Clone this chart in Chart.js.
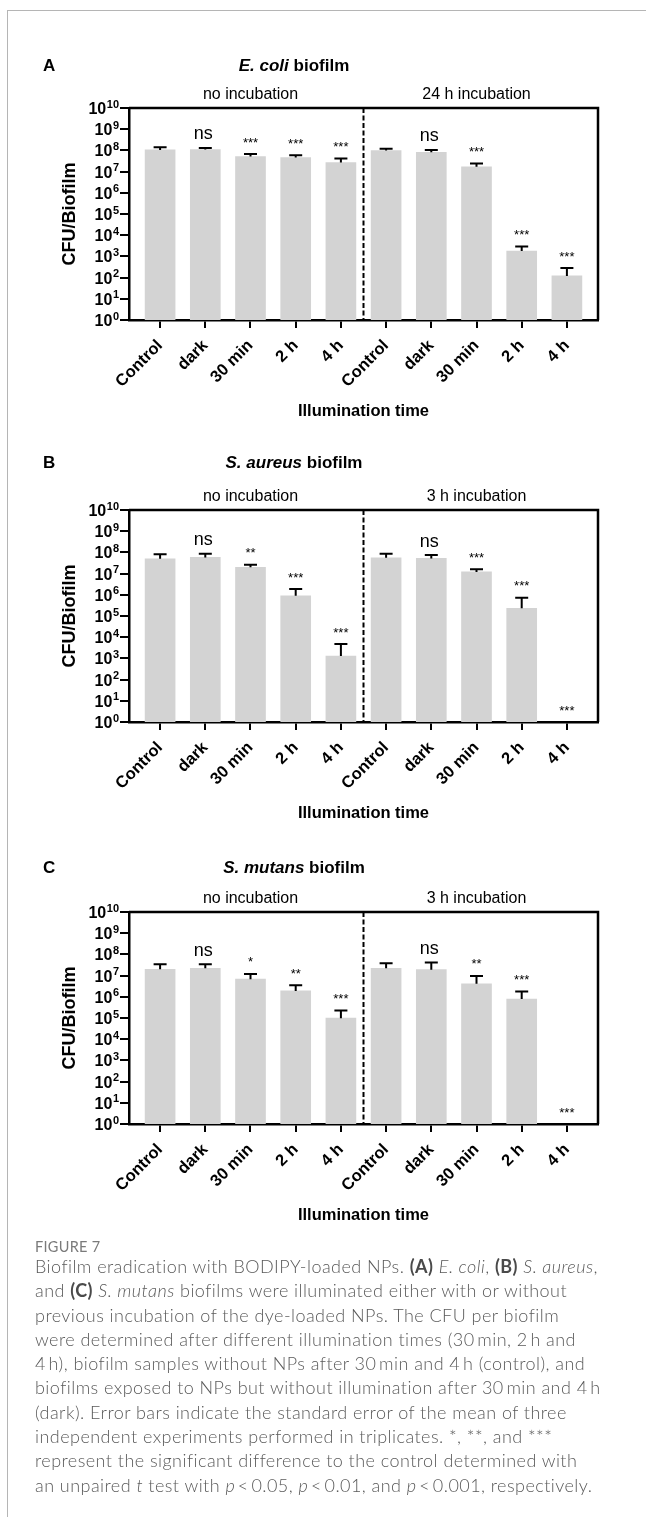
<!DOCTYPE html>
<html lang="en">
<head>
    <meta charset="UTF-8">
    <title>Figure 7 - Biofilm eradication</title>
    <script src="https://cdn.jsdelivr.net/npm/chart.js"></script>
    <style>
        body {
            margin: 0;
            background: #fff;
            width: 646px;
            height: 1517px;
            position: relative;
            overflow: hidden;
            font-family: "Liberation Sans", Arial, sans-serif;
        }
        .frame {
            position: absolute;
            left: 7px;
            top: 10px;
            right: 0;
            bottom: 0;
            border-left: 1.5px solid #b5b5b5;
            border-top: 1.5px solid #b5b5b5;
        }
        canvas.panel {
            position: absolute;
            left: 0;
        }
        .fig-label {
            position: absolute;
            left: 35px;
            top: 1238px;
            font-family: Lato, "Open Sans", sans-serif;
            font-size: 14.5px;
            line-height: 18px;
            color: #7a7a7a;
            letter-spacing: 0.3px;
        }
        .caption {
            position: absolute;
            left: 35px;
            top: 1254px;
            font-family: Lato, "Open Sans", sans-serif;
            font-weight: 300;
            font-size: 18px;
            letter-spacing: 0.45px;
            line-height: 24.3px;
            color: #5a5a5a;
            white-space: nowrap;
        }
        .caption b {
            font-weight: 700;
            color: #4a4a4a;
        }
    </style>
</head>
<body>
    <div class="frame"></div>
    <canvas id="chartA" class="panel" width="646" height="402" style="top:40px"></canvas>
    <canvas id="chartB" class="panel" width="646" height="402" style="top:442px"></canvas>
    <canvas id="chartC" class="panel" width="646" height="402" style="top:844px"></canvas>

    <div class="fig-label">FIGURE 7</div>
    <div class="caption">
        Biofilm eradication with BODIPY-loaded NPs. <b>(A)</b> <i>E. coli</i>, <b>(B)</b> <i>S. aureus</i>,<br>
        and <b>(C)</b> <i>S. mutans</i> biofilms were illuminated either with or without<br>
        previous incubation of the dye-loaded NPs. The CFU per biofilm<br>
        were determined after different illumination times (30&thinsp;min, 2&thinsp;h and<br>
        4&thinsp;h), biofilm samples without NPs after 30&thinsp;min and 4&thinsp;h (control), and<br>
        biofilms exposed to NPs but without illumination after 30&thinsp;min and 4&thinsp;h<br>
        (dark). Error bars indicate the standard error of the mean of three<br>
        independent experiments performed in triplicates. *, **, and ***<br>
        represent the significant difference to the control determined with<br>
        an unpaired <i>t</i> test with <i>p</i>&thinsp;&lt;&thinsp;0.05, <i>p</i>&thinsp;&lt;&thinsp;0.01, and <i>p</i>&thinsp;&lt;&thinsp;0.001, respectively.
    </div>

    <script>
        // categories on the x axis (two groups of five)
        const categories = ['Control', 'dark', '30 min', '2 h', '4 h', 'Control', 'dark', '30 min', '2 h', '4 h'];
        // y axis ticks: powers of ten 10^0 .. 10^10
        const yExponents = [0, 1, 2, 3, 4, 5, 6, 7, 8, 9, 10];

        const panelLetters = ['A', 'B', 'C'];
        const speciesNames = ['E. coli', 'S. aureus', 'S. mutans'];
        const groupsA = ['no incubation', '24 h incubation'];
        const groupsBC = ['no incubation', '3 h incubation'];
        const xTitle = 'Illumination time';
        const yTitle = 'CFU/Biofilm';

        // A: E. coli (CFU per biofilm, mean and SEM)
        const ecoliMean = [1.05e8, 1.1e8, 5.1e7, 4.6e7, 2.7e7, 9.8e7, 8.1e7, 1.7e7, 1.8e3, 120];
        const ecoliSem = [3.5e7, 2.0e7, 1.7e7, 1.3e7, 1.4e7, 2.2e7, 2.4e7, 7.0e6, 1.1e3, 160];
        const ecoliSig = ['', 'ns', '***', '***', '***', '', 'ns', '***', '***', '***'];

        // B: S. aureus
        const aureusMean = [5.0e7, 5.8e7, 2.0e7, 8.9e5, 1.3e3, 5.6e7, 5.2e7, 1.2e7, 2.3e5, null];
        const aureusSem = [3.1e7, 2.9e7, 6.0e6, 1.0e6, 3.5e3, 3.1e7, 2.3e7, 4.0e6, 4.9e5, null];
        const aureusSig = ['', 'ns', '**', '***', '***', '', 'ns', '***', '***', '***'];

        // C: S. mutans
        const mutansMean = [2.0e7, 2.2e7, 6.8e6, 1.9e6, 9.8e4, 2.2e7, 1.9e7, 4.1e6, 7.8e5, null];
        const mutansSem = [1.4e7, 1.2e7, 5.2e6, 1.6e6, 1.3e5, 1.6e7, 2.2e7, 5.6e6, 1.0e6, null];
        const mutansSig = ['', 'ns', '*', '**', '***', '', 'ns', '**', '***', '***'];

        const FONT = "'Liberation Sans', Arial, sans-serif";
        Chart.defaults.font.family = FONT;
        Chart.defaults.color = '#000';

        // draws error bars, stars, group labels, dashed divider, frame and titles
        function figurePlugin(letter, species, groups, mean, sem, sig, titleY) {
            return {
                id: 'figure',
                afterDraw(chart) {
                    const ctx = chart.ctx;
                    const x = chart.scales.x;
                    const y = chart.scales.y;
                    const area = chart.chartArea;
                    const bars = chart.getDatasetMeta(0).data;
                    ctx.save();

                    // error bars (upper only)
                    ctx.strokeStyle = '#000';
                    ctx.lineWidth = 2;
                    bars.forEach((bar, i) => {
                        if (mean[i] == null) return;
                        const top = y.getPixelForValue(mean[i] + sem[i]);
                        ctx.beginPath();
                        ctx.moveTo(bar.x, bar.y);
                        ctx.lineTo(bar.x, top);
                        ctx.moveTo(bar.x - 6.5, top);
                        ctx.lineTo(bar.x + 6.5, top);
                        ctx.stroke();
                    });

                    // significance marks
                    ctx.fillStyle = '#000';
                    ctx.textAlign = 'center';
                    ctx.textBaseline = 'middle';
                    sig.forEach((s, i) => {
                        if (!s) return;
                        const ref = mean[i] == null ? y.getPixelForValue(1) : y.getPixelForValue(mean[i] + sem[i]);
                        const px = x.getPixelForValue(i);
                        if (s === 'ns') {
                            ctx.font = '18px ' + FONT;
                            ctx.fillText(s, px - 2, ref - 13.5);
                        } else {
                            ctx.font = '13px ' + FONT;
                            ctx.fillText(s, px, ref - 11);
                        }
                    });

                    // dashed divider between groups
                    const mid = x.getPixelForValue(4.5);
                    ctx.setLineDash([5, 2.5]);
                    ctx.lineWidth = 2;
                    ctx.beginPath();
                    ctx.moveTo(mid, area.top);
                    ctx.lineTo(mid, area.bottom);
                    ctx.stroke();
                    ctx.setLineDash([]);

                    // top and right of the box
                    ctx.lineWidth = 2.5;
                    ctx.beginPath();
                    ctx.moveTo(area.left, area.top);
                    ctx.lineTo(area.right, area.top);
                    ctx.lineTo(area.right, area.bottom);
                    ctx.stroke();

                    // group labels
                    ctx.font = '16px ' + FONT;
                    ctx.textBaseline = 'middle';
                    ctx.fillText(groups[0], (x.getPixelForValue(0) + x.getPixelForValue(4)) / 2, area.top - 13);
                    ctx.fillText(groups[1], (x.getPixelForValue(5) + x.getPixelForValue(9)) / 2, area.top - 13);

                    // y tick labels as 10 with superscript exponent
                    const right = area.left - 10;
                    yExponents.forEach(k => {
                        const py = y.getPixelForValue(Math.pow(10, k));
                        ctx.font = 'bold 11px ' + FONT;
                        const wSup = ctx.measureText(String(k)).width;
                        ctx.textAlign = 'right';
                        ctx.fillText(String(k), right, py - 3.5);
                        ctx.font = 'bold 16px ' + FONT;
                        ctx.fillText('10', right - wSup - 0.5, py + 1.5);
                    });

                    // panel letter and title
                    ctx.textAlign = 'left';
                    ctx.font = 'bold 17px ' + FONT;
                    ctx.fillText(letter, 43, titleY);
                    ctx.font = 'italic bold 17px ' + FONT;
                    const w1 = ctx.measureText(species).width;
                    ctx.font = 'bold 17px ' + FONT;
                    const w2 = ctx.measureText(' biofilm').width;
                    const start = 294 - (w1 + w2) / 2;
                    ctx.font = 'italic bold 17px ' + FONT;
                    ctx.fillText(species, start, titleY);
                    ctx.font = 'bold 17px ' + FONT;
                    ctx.fillText(' biofilm', start + w1, titleY);

                    // x axis title, centred under the plot
                    ctx.textAlign = 'center';
                    ctx.font = 'bold 16.5px ' + FONT;
                    ctx.fillText(xTitle, (area.left + area.right) / 2, area.bottom + 91);

                    ctx.restore();
                }
            };
        }

        function makePanel(id, idx, groups, mean, sem, sig, titleY) {
            const ctx = document.getElementById(id).getContext('2d');
            return new Chart(ctx, {
                type: 'bar',
                data: {
                    datasets: [{
                        data: mean.map((v, i) => ({ x: i, y: v })),
                        backgroundColor: '#d3d3d3',
                        borderWidth: 0,
                        barThickness: 30
                    }]
                },
                options: {
                    responsive: false,
                    animation: false,
                    events: [],
                    layout: { padding: { left: 0, top: 68, right: 48, bottom: 0 } },
                    plugins: {
                        legend: { display: false },
                        tooltip: { enabled: false }
                    },
                    scales: {
                        x: {
                            type: 'linear',
                            offset: false,
                            min: -0.688,
                            max: 9.688,
                            afterBuildTicks: scale => {
                                scale.ticks = categories.map((c, i) => ({ value: i }));
                            },
                            afterFit: scale => { scale.height = 122; },
                            ticks: {
                                autoSkip: false,
                                maxRotation: 45,
                                minRotation: 45,
                                padding: 8,
                                color: '#000',
                                font: { size: 16.5, weight: 'bold' },
                                callback: value => categories[value]
                            },
                            grid: {
                                offset: false,
                                drawOnChartArea: false,
                                drawTicks: true,
                                tickLength: 8,
                                lineWidth: 2,
                                color: '#000'
                            },
                            border: { display: true, width: 2.5, color: '#000' }
                        },
                        y: {
                            type: 'logarithmic',
                            min: 1,
                            max: 1e10,
                            afterBuildTicks: scale => {
                                scale.ticks = yExponents.map(k => ({ value: Math.pow(10, k), major: true }));
                            },
                            afterFit: scale => { scale.width = 129; },
                            ticks: { display: false },
                            grid: {
                                drawOnChartArea: false,
                                drawTicks: true,
                                tickLength: 9,
                                lineWidth: 2,
                                color: '#000'
                            },
                            border: { display: true, width: 2.5, color: '#000' },
                            title: {
                                display: true,
                                text: yTitle,
                                color: '#000',
                                font: { size: 18, weight: 'bold' },
                                padding: { top: 59, bottom: 0 }
                            }
                        }
                    }
                },
                plugins: [figurePlugin(panelLetters[idx], speciesNames[idx], groups, mean, sem, sig, titleY)]
            });
        }

        makePanel('chartA', 0, groupsA, ecoliMean, ecoliSem, ecoliSig, 26);
        makePanel('chartB', 1, groupsBC, aureusMean, aureusSem, aureusSig, 21);
        makePanel('chartC', 2, groupsBC, mutansMean, mutansSem, mutansSig, 24);
    </script>
</body>
</html>
